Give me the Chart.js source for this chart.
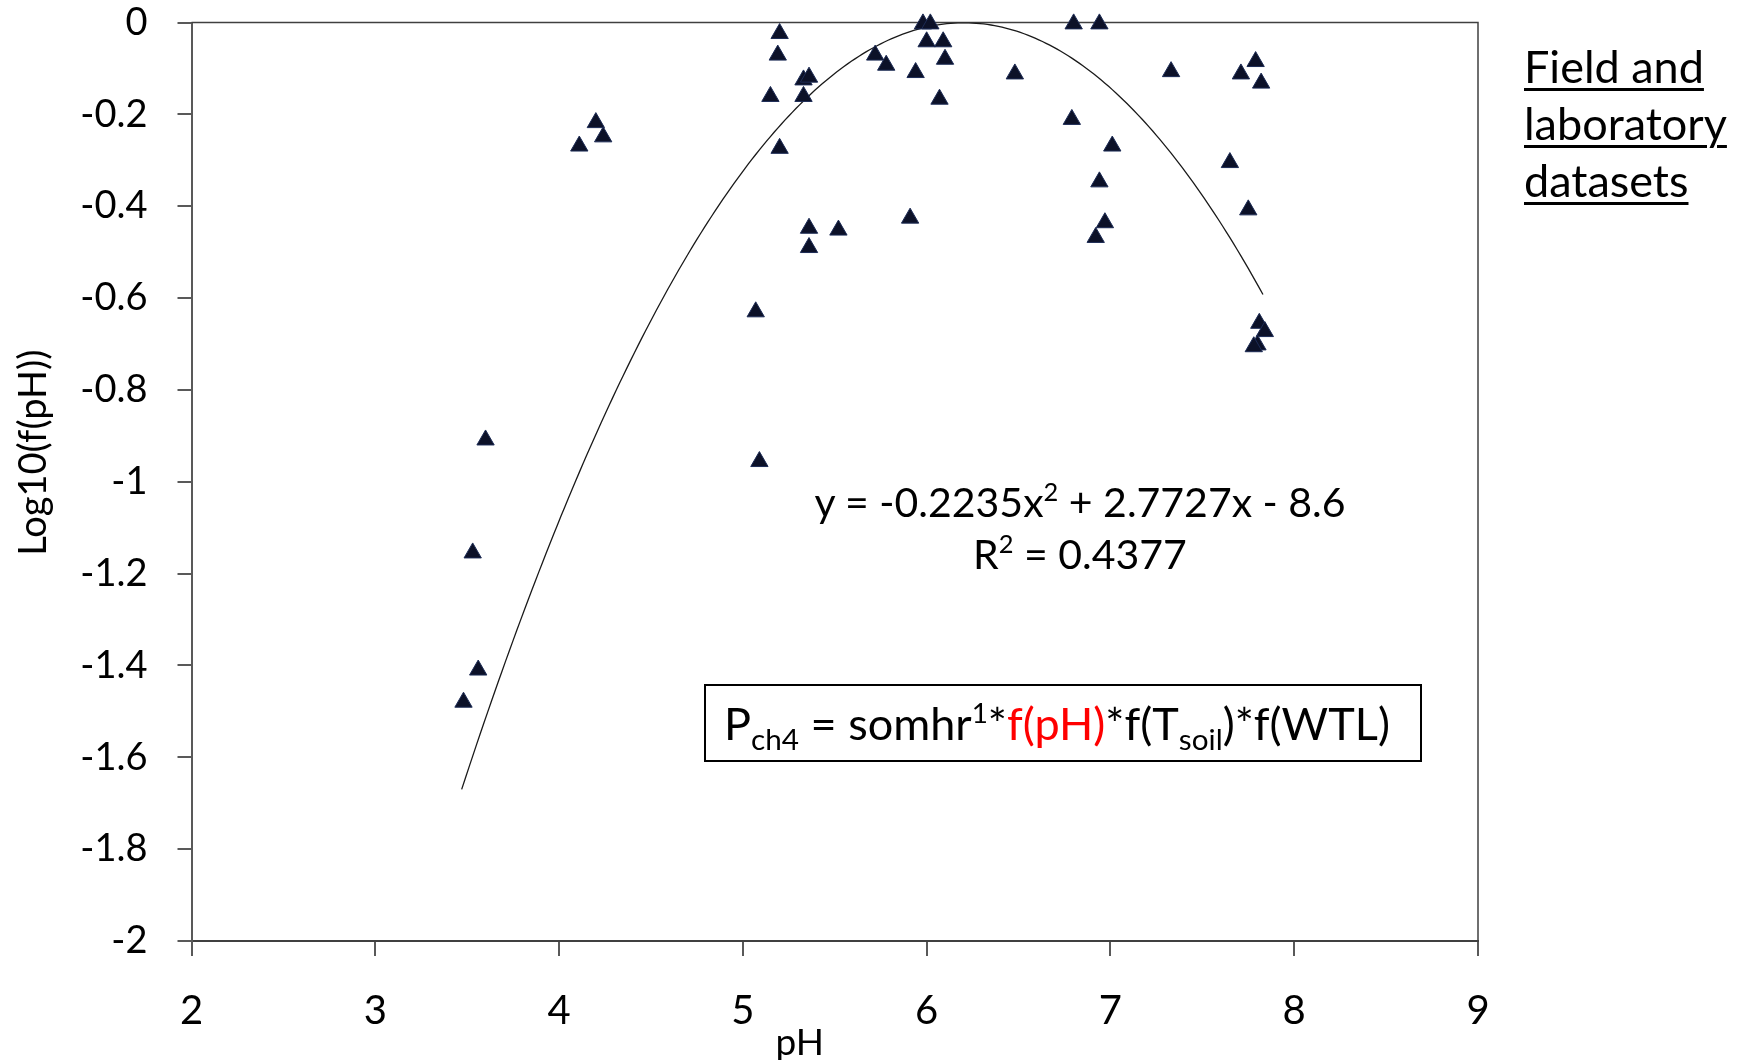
<!DOCTYPE html>
<html>
<head>
<meta charset="utf-8">
<title>Log10(f(pH)) vs pH</title>
<script src="https://cdn.jsdelivr.net/npm/chart.js@4.4.1/dist/chart.umd.min.js"></script>
<style>
  html, body { margin: 0; padding: 0; background: #fff; }
  #wrap { position: relative; width: 1742px; height: 1060px; font-family: Lato, "Open Sans", sans-serif; color: #000; overflow: hidden; }
  #plot { position: absolute; left: 0; top: 0; }
  sup { font-size: 0.62em; line-height: 0; vertical-align: 0.62em; }
  sub { font-size: 0.66em; line-height: 0; vertical-align: -0.32em; }
  .fit-eq { position: absolute; left: 730px; width: 700px; top: 476px; text-align: center; font-size: 41px; line-height: 52px; }
  .model-box { position: absolute; left: 704px; top: 684px; width: 696px; height: 74px; border: 2px solid #000; display: flex; align-items: center; padding-left: 18px; box-sizing: content-box; font-size: 45px; white-space: nowrap; }
  .model-box .hl { color: #ff0000; }
  .note { position: absolute; left: 1524px; top: 38px; font-size: 45px; line-height: 57px; text-decoration: underline; text-decoration-thickness: 3px; text-underline-offset: 5px; }
</style>
</head>
<body>
<div id="wrap">
  <canvas id="plot" width="1742" height="1060"></canvas>
  <div class="fit-eq">
    <div>y = -0.2235x<sup>2</sup> + 2.7727x - 8.6</div>
    <div>R<sup>2</sup> = 0.4377</div>
  </div>
  <div class="model-box">
    <span>P<sub>ch4</sub> = somhr<sup>1</sup>*<span class="hl">f(pH)</span>*f(T<sub>soil</sub>)*f(WTL)</span>
  </div>
  <div class="note">Field and<br>laboratory<br>datasets</div>
</div>
<script>
// observed points
const phValues = [
  3.48, 3.53, 3.56, 3.60, 4.11, 4.20, 4.24, 5.07, 5.09, 5.15,
  5.19, 5.20, 5.20, 5.33, 5.36, 5.33, 5.36, 5.36, 5.52, 5.72,
  5.78, 5.91, 5.94, 5.98, 6.02, 6.00, 6.09, 6.10, 6.07, 6.48,
  6.80, 6.94, 6.79, 7.01, 6.94, 6.97, 6.92, 7.33, 7.65, 7.71,
  7.79, 7.82, 7.75, 7.81, 7.84, 7.80, 7.78
];
const logFpH = [
  -1.480, -1.155, -1.410, -0.909, -0.269, -0.218, -0.249, -0.630, -0.956, -0.161,
  -0.071, -0.024, -0.274, -0.125, -0.119, -0.161, -0.448, -0.490, -0.452, -0.071,
  -0.093, -0.426, -0.109, -0.003, -0.003, -0.042, -0.042, -0.080, -0.167, -0.112,
  -0.003, -0.003, -0.211, -0.269, -0.347, -0.436, -0.468, -0.107, -0.305, -0.112,
  -0.085, -0.132, -0.408, -0.655, -0.673, -0.702, -0.706
];

// polynomial trendline y = a x^2 + b x + c, as printed on the chart
const fitCoef = [-0.2235, 2.7727, -8.6];
const fitRange = [3.47, 7.84];

const xTicks = [2, 3, 4, 5, 6, 7, 8, 9];
const yTicks = [0, -0.2, -0.4, -0.6, -0.8, -1, -1.2, -1.4, -1.6, -1.8, -2];
const yTickLabels = ["0", "-0.2", "-0.4", "-0.6", "-0.8", "-1", "-1.2", "-1.4", "-1.6", "-1.8", "-2"];

const xTitle = "pH";
const yTitle = "Log10(f(pH))";

const points = phValues.map((x, i) => ({ x: x, y: logFpH[i] }));

const trend = [];
for (let x = fitRange[0]; x <= fitRange[1] + 1e-9; x += 0.02) {
  trend.push({ x: x, y: fitCoef[0] * x * x + fitCoef[1] * x + fitCoef[2] });
}

// top and right edges of the plot box
const plotFrame = {
  id: "plotFrame",
  beforeDatasetsDraw(chart) {
    const { ctx, chartArea: a } = chart;
    ctx.save();
    ctx.strokeStyle = "#404040";
    ctx.lineWidth = 1.5;
    ctx.beginPath();
    ctx.moveTo(a.left, a.top);
    ctx.lineTo(a.right, a.top);
    ctx.lineTo(a.right, a.bottom);
    ctx.stroke();
    ctx.restore();
  },
};

// axis captions, sitting a bit off-centre like the Excel original
const axisCaptions = {
  id: "axisCaptions",
  afterDraw(chart) {
    const { ctx, chartArea: a } = chart;
    ctx.save();
    ctx.fillStyle = "#000";
    ctx.textAlign = "center";
    ctx.textBaseline = "middle";

    ctx.font = "37px Lato";
    ctx.fillText(xTitle, (a.left + a.right) / 2 - 35, 1043);

    ctx.font = "38px Lato";
    ctx.translate(34, (a.top + a.bottom) / 2 - 29);
    ctx.rotate(-Math.PI / 2);
    ctx.fillText(yTitle, 0, 0);
    ctx.restore();
  },
};

function draw() {
  new Chart(document.getElementById("plot"), {
    type: "scatter",
    data: {
      datasets: [
        {
          label: "Field and laboratory datasets",
          data: points,
          pointStyle: "triangle",
          pointRadius: 10,
          pointHoverRadius: 10,
          backgroundColor: "#0c1128",
          borderColor: "#1c2b55",
          borderWidth: 1,
          clip: false,
        },
        {
          label: "Poly. fit",
          data: trend,
          showLine: true,
          pointRadius: 0,
          borderColor: "#1a1a1a",
          borderWidth: 1.3,
          tension: 0,
        },
      ],
    },
    options: {
      responsive: false,
      animation: false,
      devicePixelRatio: 1,
      layout: { padding: { top: 22.5, right: 264, bottom: 0, left: 0 } },
      plugins: {
        legend: { display: false },
        tooltip: { enabled: false },
      },
      scales: {
        x: {
          type: "linear",
          min: 2,
          max: 9,
          afterBuildTicks: (s) => { s.ticks = xTicks.map((v) => ({ value: v })); },
          afterFit: (s) => { s.height = 119; },
          ticks: { color: "#000", padding: 31, font: { family: "Lato", size: 40 } },
          grid: { drawOnChartArea: false, drawTicks: true, tickLength: 15, color: "#595959", lineWidth: 2 },
          border: { color: "#404040", width: 2 },
        },
        y: {
          type: "linear",
          min: -2,
          max: 0,
          afterBuildTicks: (s) => { s.ticks = yTicks.map((v) => ({ value: v })); },
          afterFit: (s) => {
            s.width = 191.5;
            s.paddingTop = 0;
            s.paddingBottom = 0;
          },
          ticks: {
            color: "#000",
            padding: 30,
            font: { family: "Lato", size: 38 },
            callback: (value, index) => yTickLabels[index],
          },
          grid: { drawOnChartArea: false, drawTicks: true, tickLength: 14, color: "#595959", lineWidth: 2 },
          border: { color: "#595959", width: 2 },
        },
      },
    },
    plugins: [plotFrame, axisCaptions],
  });
}

if (document.fonts && document.fonts.load) {
  document.fonts.load("40px Lato").then(draw, draw);
} else {
  draw();
}
</script>
</body>
</html>
